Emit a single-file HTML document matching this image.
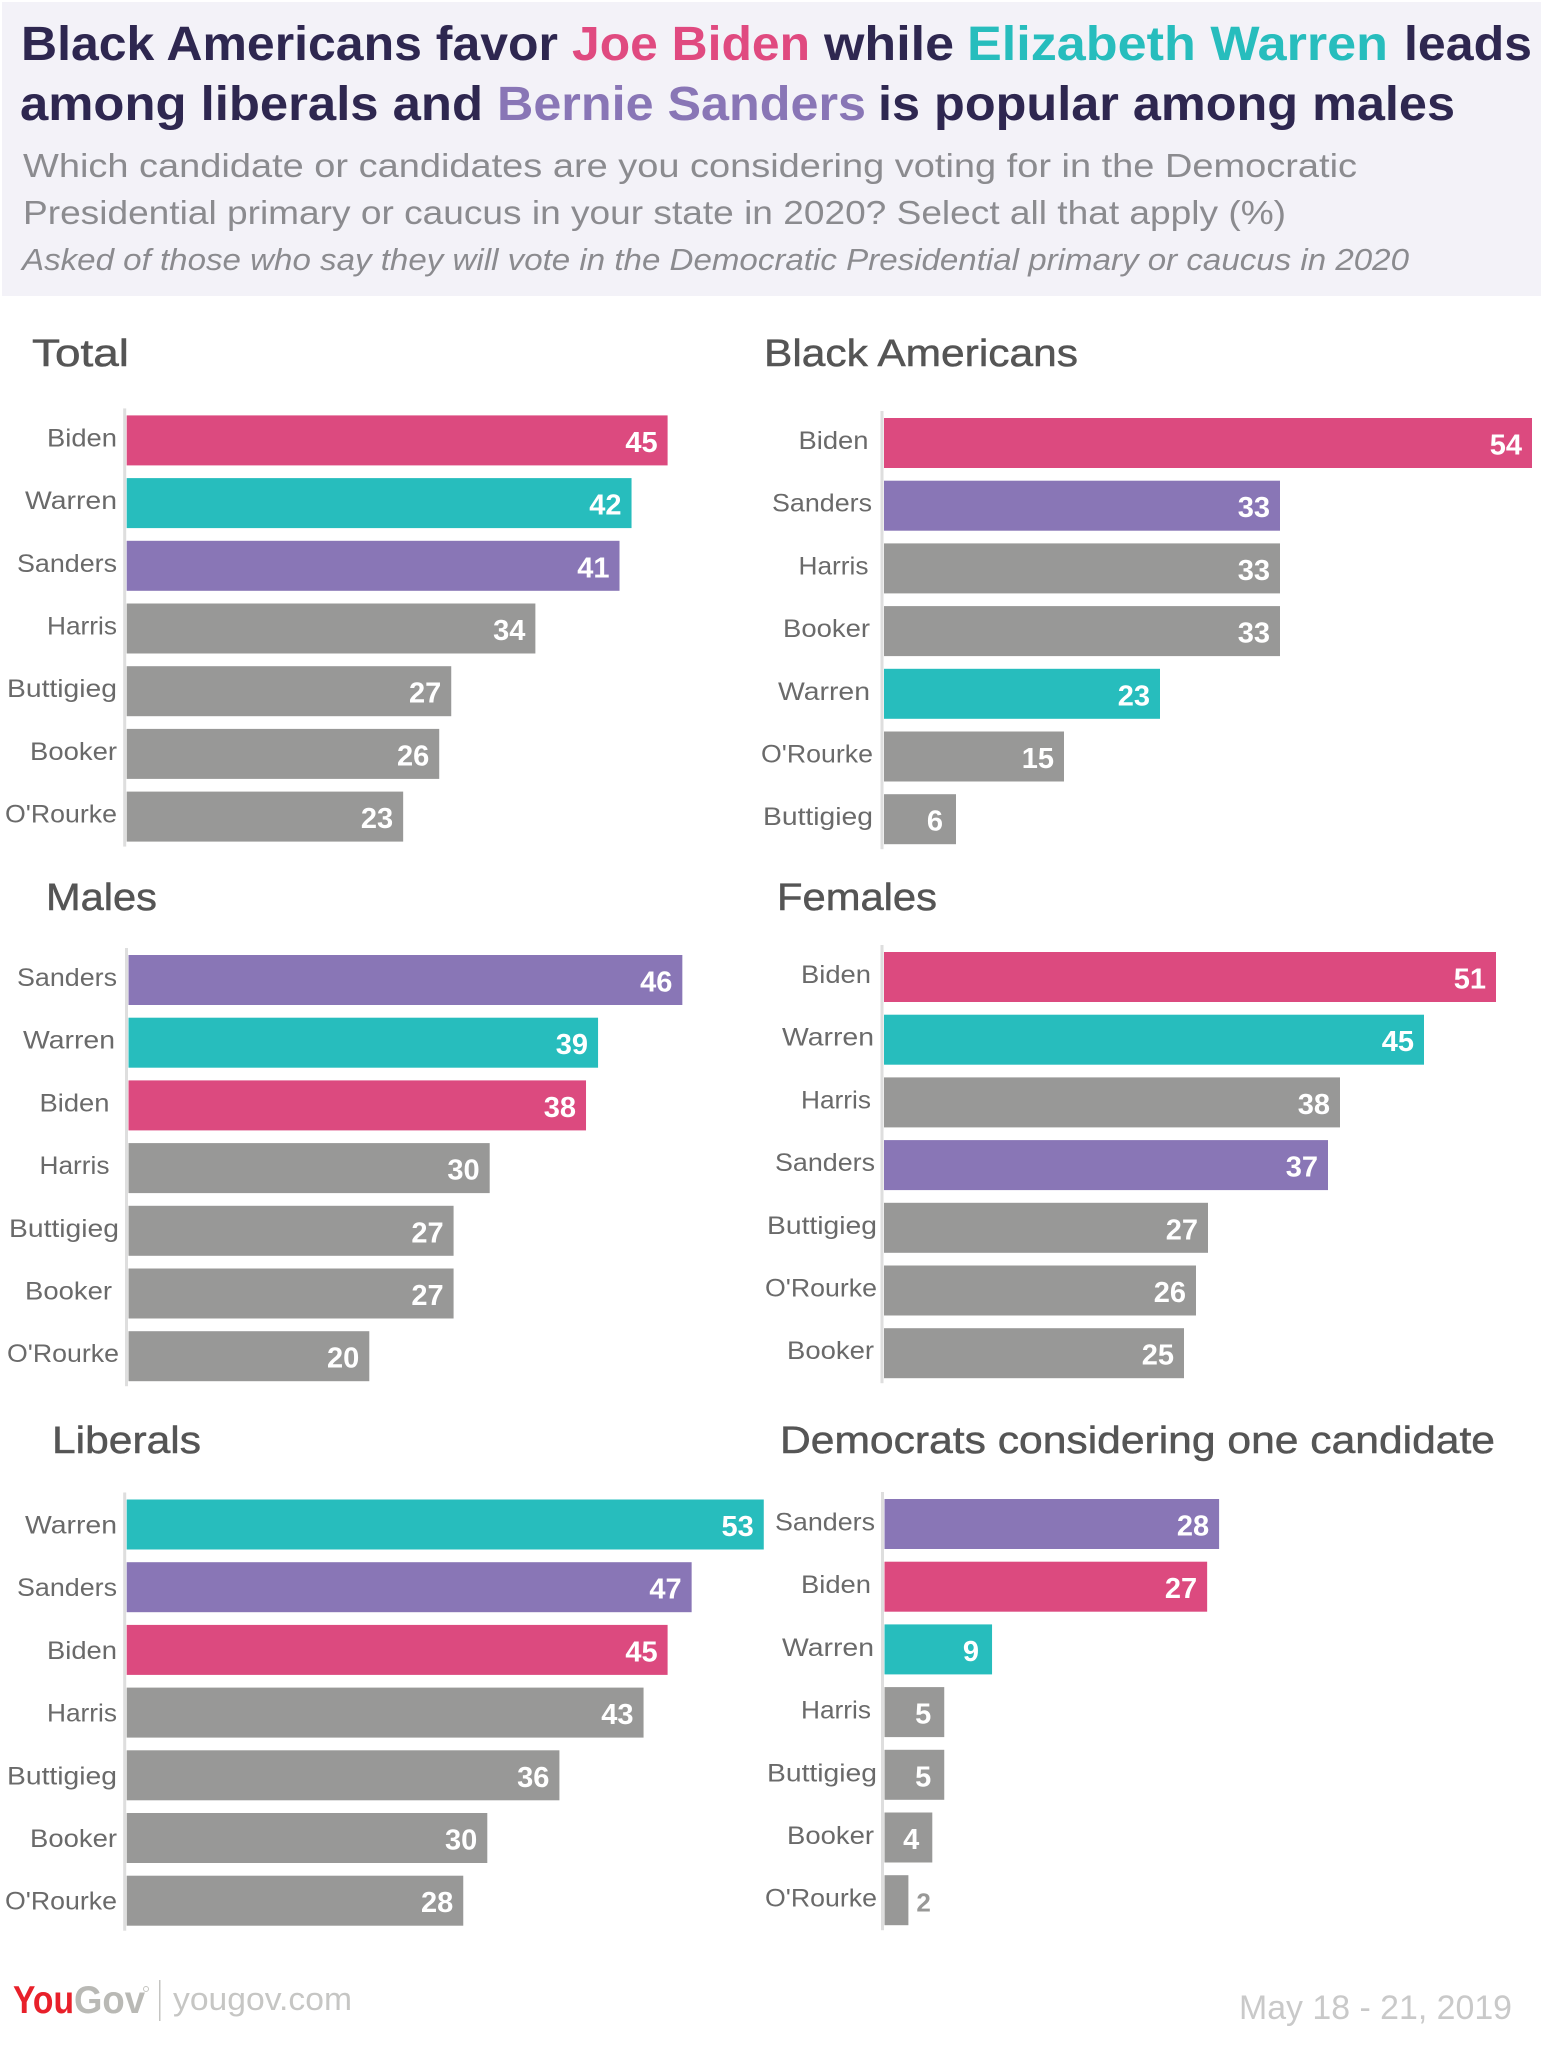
<!DOCTYPE html>
<html lang="en">
<head>
<meta charset="utf-8">
<title>YouGov Democratic primary candidates</title>
<style>
html,body{margin:0;padding:0;background:#fff;}
svg{display:block;font-family:"Liberation Sans",sans-serif;}
</style>
</head>
<body>
<svg id="chart" xmlns="http://www.w3.org/2000/svg" width="1541" height="2048" viewBox="0 0 1541 2048">
  <rect x="2" y="2" width="1539" height="294" fill="#f3f2f8"/>
  <g font-weight="bold" font-size="48" fill="#2e2750">
    <text x="21" y="60" textLength="537" lengthAdjust="spacingAndGlyphs">Black Americans favor</text>
    <text x="572" y="60" textLength="238" lengthAdjust="spacingAndGlyphs" fill="#e04a80">Joe Biden</text>
    <text x="824" y="60" textLength="130" lengthAdjust="spacingAndGlyphs">while</text>
    <text x="967" y="60" textLength="421" lengthAdjust="spacingAndGlyphs" fill="#27bdbd">Elizabeth Warren</text>
    <text x="1404" y="60" textLength="128" lengthAdjust="spacingAndGlyphs">leads</text>
    <text x="20" y="120" textLength="463" lengthAdjust="spacingAndGlyphs">among liberals and</text>
    <text x="497" y="120" textLength="369" lengthAdjust="spacingAndGlyphs" fill="#8976b6">Bernie Sanders</text>
    <text x="878" y="120" textLength="577" lengthAdjust="spacingAndGlyphs">is popular among males</text>
  </g>
  <g fill="#8b8b8f">
    <text x="23" y="177" font-size="33" textLength="1334" lengthAdjust="spacingAndGlyphs">Which candidate or candidates are you considering voting for in the Democratic</text>
    <text x="23" y="224" font-size="33" textLength="1263" lengthAdjust="spacingAndGlyphs">Presidential primary or caucus in your state in 2020? Select all that apply (%)</text>
    <text x="22" y="270" font-size="31" font-style="italic" textLength="1387" lengthAdjust="spacingAndGlyphs">Asked of those who say they will vote in the Democratic Presidential primary or caucus in 2020</text>
  </g>
  <g id="panels"></g>
  <g font-weight="bold" font-size="39">
    <text x="13" y="2013" fill="#e8202a" textLength="61" lengthAdjust="spacingAndGlyphs">You</text>
    <text x="74" y="2013" fill="#b9b9b5" textLength="71" lengthAdjust="spacingAndGlyphs">Gov</text>
    <circle cx="146" cy="1989" r="2.5" fill="none" stroke="#c4c4c0" stroke-width="1"/>
  </g>
  <rect x="159" y="1980" width="1.5" height="41" fill="#c4c4c2"/>
  <text x="173" y="2010" font-size="32" fill="#c6c6c4" textLength="179" lengthAdjust="spacingAndGlyphs">yougov.com</text>
  <text x="1239" y="2019" font-size="34" fill="#c9c9c9" textLength="273" lengthAdjust="spacingAndGlyphs">May 18 - 21, 2019</text>
</svg>
<script>
// ---- chart data ----
var totalCategories = ["Biden", "Warren", "Sanders", "Harris", "Buttigieg", "Booker", "O'Rourke"];
var totalValues = [45, 42, 41, 34, 27, 26, 23];
var blackCategories = ["Biden", "Sanders", "Harris", "Booker", "Warren", "O'Rourke", "Buttigieg"];
var blackValues = [54, 33, 33, 33, 23, 15, 6];
var malesCategories = ["Sanders", "Warren", "Biden", "Harris", "Buttigieg", "Booker", "O'Rourke"];
var malesValues = [46, 39, 38, 30, 27, 27, 20];
var femalesCategories = ["Biden", "Warren", "Harris", "Sanders", "Buttigieg", "O'Rourke", "Booker"];
var femalesValues = [51, 45, 38, 37, 27, 26, 25];
var liberalsCategories = ["Warren", "Sanders", "Biden", "Harris", "Buttigieg", "Booker", "O'Rourke"];
var liberalsValues = [53, 47, 45, 43, 36, 30, 28];
var oneCandidateCategories = ["Sanders", "Biden", "Warren", "Harris", "Buttigieg", "Booker", "O'Rourke"];
var oneCandidateValues = [28, 27, 9, 5, 5, 4, 2];

// ---- styling and layout (not data) ----
var barColor = {Biden: "#dc4a7f", Warren: "#27bdbd", Sanders: "#8976b6"};
var otherColor = "#989897";
var labelWidth = {Biden: 70, Warren: 92, Sanders: 100, Harris: 70, Buttigieg: 110, Booker: 87, "O'Rourke": 112};
var edgeLeft = {Biden: 117, Warren: 117, Sanders: 117, Harris: 117, Buttigieg: 117, Booker: 117, "O'Rourke": 117};
var edgeMales = {Sanders: 117, Warren: 115, Biden: 109.5, Harris: 109.5, Buttigieg: 119, Booker: 112, "O'Rourke": 119};
var edgeBlack = {Biden: 868.5, Sanders: 872, Harris: 868.5, Booker: 870, Warren: 870, "O'Rourke": 873, Buttigieg: 873};
var edgeRight = {Biden: 871, Warren: 874, Harris: 871, Sanders: 875, Buttigieg: 877, "O'Rourke": 877, Booker: 874};

var SVG_NS = "http://www.w3.org/2000/svg";
var panelsRoot = document.getElementById("panels");
var BAR_HEIGHT = 50;
var BAR_STEP = 62.7;

function slug(s) {
  return s.toLowerCase().replace(/[^a-z0-9]+/g, "-");
}
function make(tag, attrs, parent, content) {
  var el = document.createElementNS(SVG_NS, tag);
  for (var k in attrs) {
    el.setAttribute(k, attrs[k]);
  }
  if (content !== undefined) {
    el.textContent = content;
  }
  parent.appendChild(el);
  return el;
}

function drawPanel(key, title, titleX, titleWidth, titleY, originX, topY, perUnit, labelDy, categories, values, edges) {
  function xScale(v) { return v * perUnit; }
  function yScale(i) { return topY + i * BAR_STEP; }

  var group = make("g", {}, panelsRoot);
  
  

  var heading = make("text", {
    x: titleX, y: titleY, "font-size": 38, fill: "#555555", stroke: "#555555", "stroke-width": 0.5,
    textLength: titleWidth, lengthAdjust: "spacingAndGlyphs"
  }, group, title);
  
  

  var axis = make("rect", {
    x: originX - 3.5, y: topY - 7, width: 3,
    height: yScale(categories.length - 1) + BAR_HEIGHT + 12 - topY,
    fill: "#dedede"
  }, group);
  
  

  categories.forEach(function (name, i) {
    var value = values[i];
    var y = yScale(i);
    var end = originX + xScale(value);

    var label = make("text", {
      x: edges[name], y: y + labelDy, "font-size": 25, fill: "#6a6a6a", "text-anchor": "end",
      textLength: labelWidth[name], lengthAdjust: "spacingAndGlyphs"
    }, group, name);
    
    

    var bar = make("rect", {
      x: originX, y: y, width: xScale(value), height: BAR_HEIGHT,
      fill: barColor[name] || otherColor
    }, group);
    
    

    var outside = value < 3;
    var inset = String(value).length > 1 ? 10 : 13;
    var valueText = make("text", {
      x: outside ? end + 8 : end - inset,
      y: y + 36.5,
      "font-size": outside ? 26 : 29,
      "font-weight": "bold",
      fill: outside ? otherColor : "#ffffff",
      "text-anchor": outside ? "start" : "end"
    }, group, String(value));
    
    
  });
}

drawPanel("total", "Total", 32, 97, 366, 126.7, 415.4, 12.02, 31, totalCategories, totalValues, edgeLeft);
drawPanel("black-americans", "Black Americans", 764, 314, 366, 884, 418, 12, 31, blackCategories, blackValues, edgeBlack);
drawPanel("males", "Males", 46, 111, 910, 128.5, 955, 12.04, 31, malesCategories, malesValues, edgeMales);
drawPanel("females", "Females", 777, 160, 910, 884, 952, 12, 31, femalesCategories, femalesValues, edgeRight);
drawPanel("liberals", "Liberals", 52, 149, 1453, 126.7, 1499.5, 12.02, 34, liberalsCategories, liberalsValues, edgeLeft);
drawPanel("one-candidate", "Democrats considering one candidate", 780, 715, 1453, 884.5, 1499, 11.95, 31.5, oneCandidateCategories, oneCandidateValues, edgeRight);
</script>
</body>
</html>
